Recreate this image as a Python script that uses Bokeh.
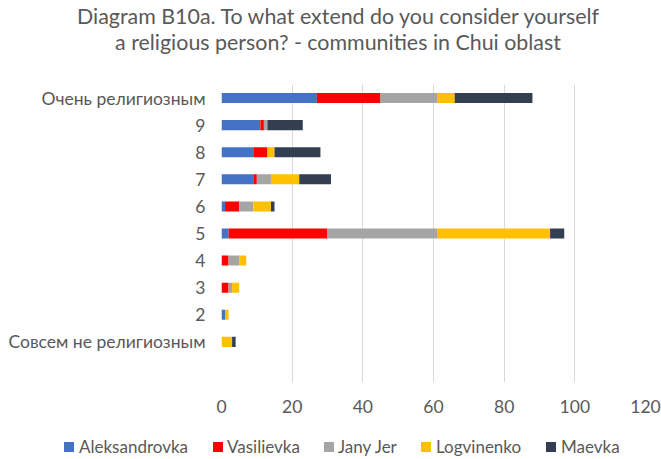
from bokeh.plotting import figure
from bokeh.layouts import column
from bokeh.models import ColumnDataSource, FactorRange, Range1d, FixedTicker, Div
from bokeh.embed import file_html
from bokeh.resources import INLINE

# ---- data ----
categories = ["Очень религиозным", "9", "8", "7", "6", "5", "4", "3", "2",
              "Совсем не религиозным", " "]
series = ["Aleksandrovka", "Vasilievka", "Jany Jer", "Logvinenko", "Maevka"]
aleksandrovka = [27, 11, 9, 9, 1, 2, 0, 0, 1, 0, 0]
vasilievka = [18, 1, 4, 1, 4, 28, 2, 2, 0, 0, 0]
jany_jer = [16, 1, 0, 4, 4, 31, 3, 1, 0, 0, 0]
logvinenko = [5, 0, 2, 8, 5, 32, 2, 2, 1, 3, 0]
maevka = [22, 10, 13, 9, 1, 4, 0, 0, 0, 1, 0]
x_ticks = [0, 20, 40, 60, 80, 100, 120]
title_line1 = "Diagram B10a. To what extend do you consider yourself"
title_line2 = "a religious person? - communities in Chui oblast"

# ---- style / layout ----
colors = ["#4472C4", "#FF0000", "#A5A5A5", "#FFC000", "#333F50"]
FONT = "Lato"
TXT = "#595959"
W, H = 661, 459
TH = 58                     # title strip height
LH = 29                     # legend strip height
MH = H - TH - LH            # chart height
FL, FR, FT, FB = 221, 645, 84, 382          # plot frame edges on the page
legend_swatch_x = [64, 213, 324, 421, 546]  # page px (layout only)
legend_text_x = [79, 227, 338, 436, 561]

# ---- title strip ----
title_html = (
    f'<div style="margin-left:15px;width:646px;padding-top:4px;text-align:center;'
    f'font-family:{FONT};font-size:21.4px;line-height:25.5px;color:{TXT};'
    f'white-space:nowrap;">{title_line1}<br>{title_line2}</div>'
)
title_div = Div(text=title_html, width=W, height=TH, margin=0)

# ---- main chart ----
source = ColumnDataSource(data={
    "cat": categories,
    "Aleksandrovka": aleksandrovka,
    "Vasilievka": vasilievka,
    "Jany Jer": jany_jer,
    "Logvinenko": logvinenko,
    "Maevka": maevka,
})

p = figure(
    width=W, height=MH,
    y_range=FactorRange(factors=list(reversed(categories))),
    x_range=Range1d(0, 120),
    output_backend="svg", toolbar_location=None, title=None,
    min_border_left=FL, min_border_right=W - FR, min_border_top=FT - TH,
    min_border_bottom=TH + MH - FB,
)
p.hbar_stack(series, y="cat", height=0.37, fill_color=colors,
             line_color=None, source=source)

p.xaxis.ticker = FixedTicker(ticks=x_ticks)
for ax in (p.xaxis[0], p.yaxis[0]):
    ax.axis_line_color = None
    ax.major_tick_line_color = None
    ax.minor_tick_line_color = None
    ax.major_tick_out = 0
    ax.major_tick_in = 0
    ax.major_label_text_font = FONT
    ax.major_label_text_font_size = "17.5px"
    ax.major_label_text_color = TXT
p.xaxis.major_label_standoff = 17
p.yaxis.major_label_standoff = 16

p.xgrid.ticker = FixedTicker(ticks=x_ticks)
p.xgrid.grid_line_color = "#D9D9D9"
p.xgrid.grid_line_width = 1
p.ygrid.grid_line_color = None
p.outline_line_color = None

# ---- legend strip ----
items = []
for name, c, gx, tx in zip(series, colors, legend_swatch_x, legend_text_x):
    items.append(
        f'<span style="position:absolute;left:{gx}px;top:12px;width:10px;height:10px;'
        f'background:{c};"></span>'
        f'<span style="position:absolute;left:{tx}px;top:7px;font-family:{FONT};'
        f'font-size:17px;line-height:20px;color:{TXT};white-space:nowrap;">{name}</span>'
    )
legend_html = (f'<div style="position:relative;width:{W}px;height:{LH}px;">'
               + "".join(items) + '</div>')
legend_div = Div(text=legend_html, width=W, height=LH, margin=0)

layout = column(title_div, p, legend_div, spacing=0)
open("out.html", "w").write(file_html(layout, INLINE))
